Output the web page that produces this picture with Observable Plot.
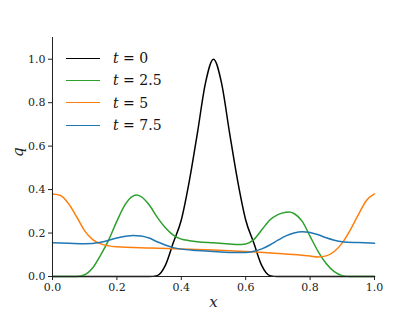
<!DOCTYPE html>
<html>
<head>
<meta charset="utf-8">
<script src="https://cdn.jsdelivr.net/npm/d3@7"></script>
<script src="https://cdn.jsdelivr.net/npm/@observablehq/plot@0.6"></script>
<style>
  html, body { margin: 0; padding: 0; background: #fff; }
  #wrap { position: relative; width: 415px; height: 311px; }
  #legend { position: absolute; left: 66px; top: 47px; font-family: 'DejaVu Serif', serif; font-size: 14px; color: #111; }
  #legend .row { display: flex; align-items: center; height: 22.3px; }
  #legend .sw { width: 34px; height: 0; border-top: 1.5px solid; margin-right: 13px; }
  #legend i { font-style: italic; }
  svg text { font-family: 'DejaVu Serif', serif; }
</style>
</head>
<body>
<div id="wrap"><div id="legend"></div></div>
<script>
// t = 0
const x0 = [0, 0.1, 0.2, 0.3, 0.325, 0.35, 0.375, 0.4, 0.425, 0.45, 0.475, 0.5, 0.525, 0.55, 0.575, 0.6, 0.625, 0.65, 0.675, 0.7, 0.8, 0.9, 1.0];
const q0 = [0, 0, 0, 0, 0.004, 0.05, 0.155, 0.26, 0.44, 0.66, 0.89, 1.0, 0.89, 0.66, 0.44, 0.26, 0.155, 0.05, 0.004, 0, 0, 0, 0];
// t = 2.5
const x25 = [0, 0.05, 0.075, 0.1, 0.125, 0.15, 0.175, 0.2, 0.225, 0.25, 0.26, 0.275, 0.3, 0.325, 0.35, 0.375, 0.4, 0.425, 0.45, 0.5, 0.55, 0.575, 0.6, 0.625, 0.65, 0.675, 0.7, 0.725, 0.735, 0.75, 0.775, 0.8, 0.825, 0.85, 0.875, 0.9, 0.925, 1.0];
const q25 = [0, 0, 0, 0.008, 0.04, 0.1, 0.17, 0.255, 0.33, 0.37, 0.375, 0.368, 0.33, 0.273, 0.225, 0.19, 0.172, 0.165, 0.16, 0.155, 0.15, 0.147, 0.15, 0.17, 0.215, 0.26, 0.285, 0.296, 0.297, 0.29, 0.255, 0.185, 0.115, 0.06, 0.022, 0.004, 0, 0];
// t = 5
const x5 = [0, 0.025, 0.05, 0.075, 0.1, 0.125, 0.15, 0.175, 0.2, 0.3, 0.4, 0.5, 0.6, 0.7, 0.8, 0.825, 0.85, 0.875, 0.9, 0.925, 0.95, 0.975, 1.0];
const q5 = [0.38, 0.373, 0.335, 0.275, 0.21, 0.17, 0.15, 0.141, 0.137, 0.131, 0.127, 0.122, 0.115, 0.106, 0.094, 0.09, 0.095, 0.115, 0.155, 0.215, 0.285, 0.35, 0.38];
// t = 7.5
const x75 = [0, 0.05, 0.1, 0.15, 0.2, 0.25, 0.275, 0.3, 0.325, 0.35, 0.375, 0.4, 0.45, 0.5, 0.55, 0.6, 0.625, 0.65, 0.675, 0.7, 0.725, 0.75, 0.775, 0.8, 0.825, 0.85, 0.875, 0.9, 0.95, 1.0];
const q75 = [0.155, 0.153, 0.151, 0.158, 0.177, 0.189, 0.186, 0.177, 0.16, 0.145, 0.133, 0.126, 0.12, 0.115, 0.111, 0.11, 0.116, 0.127, 0.145, 0.167, 0.187, 0.2, 0.206, 0.203, 0.192, 0.178, 0.167, 0.16, 0.156, 0.153];

const seriesNames = ["0", "2.5", "5", "7.5"];
const seriesColors = ["#000000", "#2ca02c", "#ff7f0e", "#1f77b4"];
const xTicks = [0, 0.2, 0.4, 0.6, 0.8, 1.0];
const yTicks = [0, 0.2, 0.4, 0.6, 0.8, 1.0];

const xs = [x0, x25, x5, x75];
const qs = [q0, q25, q5, q75];
const data = [];
seriesNames.forEach((t, i) => xs[i].forEach((x, j) => data.push({t, x, q: qs[i][j]})));

const chart = Plot.plot({
  width: 415,
  height: 311,
  marginLeft: 52,
  marginRight: 41,
  marginTop: 37,
  marginBottom: 35,
  style: {fontFamily: "'DejaVu Serif', serif", fontSize: "11px", background: "white", color: "#222"},
  x: {domain: [0, 1]},
  y: {domain: [0, 1.1]},
  marks: [
    ...seriesNames.map((t, i) => Plot.line(data.filter(d => d.t === t), {
      x: "x", y: "q", stroke: seriesColors[i], strokeWidth: 1.5, curve: "monotone-x"
    })),
    Plot.axisX({ticks: xTicks, tickFormat: d3.format(".1f"), tickSize: 4, tickPadding: 3, label: null, stroke: "#222"}),
    Plot.axisY({ticks: yTicks, tickFormat: d3.format(".1f"), tickSize: 4, tickPadding: 3, label: null, stroke: "#222"}),
    Plot.ruleX([0], {stroke: "#222", strokeWidth: 1}),
    Plot.ruleY([0], {stroke: "#222", strokeWidth: 1}),
    Plot.text(["x"], {frameAnchor: "bottom", dy: 30, fontStyle: "italic", fontSize: 15, fill: "#222"}),
    Plot.text(["q"], {frameAnchor: "left", dx: -34, rotate: -90, fontStyle: "italic", fontSize: 15, fill: "#222"})
  ]
});
document.getElementById("wrap").prepend(chart);

const legend = document.getElementById("legend");
seriesNames.forEach((t, i) => {
  const row = document.createElement("div");
  row.className = "row";
  row.innerHTML = `<span class="sw" style="border-color:${seriesColors[i]}"></span><span><i>t</i> = ${t}</span>`;
  legend.appendChild(row);
});
</script>
</body>
</html>
